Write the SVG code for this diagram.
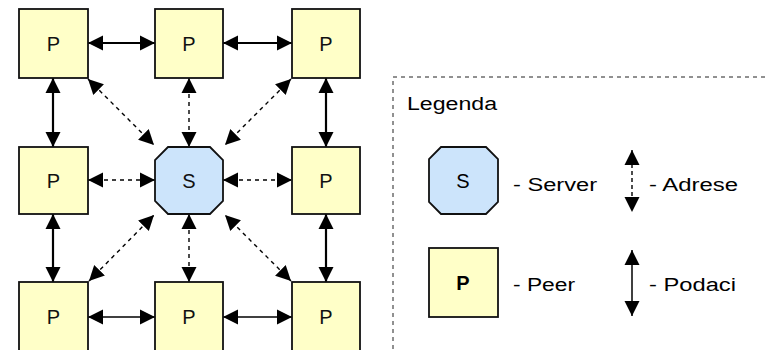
<svg xmlns="http://www.w3.org/2000/svg" width="769" height="350" viewBox="0 0 769 350">
<style>
.peer{fill:#ffffc8;stroke:#111;stroke-width:1.8}
.srv{fill:#cce4fb;stroke:#111;stroke-width:1.8}
.lbl{font-family:"Liberation Sans",Arial,sans-serif;font-size:20px;fill:#111;text-anchor:middle}
.leg{font-family:"Liberation Sans",Arial,sans-serif;font-size:18px;fill:#000}
.big{font-size:20px;text-anchor:middle}
.data{stroke:#000;stroke-width:2.2;fill:none;marker-start:url(#ah);marker-end:url(#ah)}
.thin{stroke-width:1.5}
.addr{stroke:#000;stroke-width:1.4;stroke-dasharray:4,4;fill:none;marker-start:url(#ah);marker-end:url(#ah)}
</style>
<defs>
<marker id="ah" markerUnits="userSpaceOnUse" markerWidth="17" markerHeight="17" refX="15" refY="8.5" orient="auto-start-reverse" viewBox="0 0 17 17">
<path d="M0,1 L15,8.5 L0,16 z" fill="#000"/>
</marker>
</defs>
<rect x="393" y="77" width="400" height="300" fill="none" stroke="#222" stroke-width="1" stroke-dasharray="4,4"/>
<g id="connectors">
<line class="data" x1="88" y1="43" x2="155" y2="43"/>
<line class="data" x1="223" y1="43" x2="292" y2="43"/>
<line class="data thin" x1="88" y1="317" x2="155" y2="317"/>
<line class="data thin" x1="223" y1="317" x2="292" y2="317"/>
<line class="data" x1="53" y1="78" x2="53" y2="147"/>
<line class="data" x1="53" y1="214" x2="53" y2="282"/>
<line class="data" x1="326" y1="78" x2="326" y2="147"/>
<line class="data" x1="326" y1="214" x2="326" y2="282"/>
<line class="addr" x1="189" y1="78" x2="189" y2="147"/>
<line class="addr" x1="189" y1="214" x2="189" y2="282"/>
<line class="addr" x1="88" y1="180" x2="155" y2="180"/>
<line class="addr" x1="223" y1="180" x2="292" y2="180"/>
<line class="addr" x1="88" y1="79" x2="154" y2="145"/>
<line class="addr" x1="291" y1="79" x2="225" y2="145"/>
<line class="addr" x1="89" y1="281" x2="154" y2="215"/>
<line class="addr" x1="291" y1="281" x2="225" y2="215"/>
</g>
<g id="p1"><rect class="peer" x="19" y="9" width="69" height="69"/><text class="lbl" x="53.5" y="51">P</text></g>
<g id="p2"><rect class="peer" x="155" y="9" width="68" height="69"/><text class="lbl" x="189" y="51">P</text></g>
<g id="p3"><rect class="peer" x="292" y="9" width="68" height="69"/><text class="lbl" x="326" y="51">P</text></g>
<g id="p4"><rect class="peer" x="19" y="147" width="69" height="67"/><text class="lbl" x="53.5" y="188">P</text></g>
<g id="s"><path class="srv" d="M168,147 L210,147 L223,160 L223,201 L210,214 L168,214 L155,201 L155,160 Z"/><text class="lbl" x="189" y="188">S</text></g>
<g id="p5"><rect class="peer" x="292" y="147" width="68" height="67"/><text class="lbl" x="326" y="188">P</text></g>
<g id="p6"><rect class="peer" x="19" y="282" width="69" height="70"/><text class="lbl" x="53.5" y="324">P</text></g>
<g id="p7"><rect class="peer" x="155" y="282" width="68" height="70"/><text class="lbl" x="189" y="324">P</text></g>
<g id="p8"><rect class="peer" x="292" y="282" width="68" height="70"/><text class="lbl" x="326" y="324">P</text></g>
<g id="legend">
<text class="leg" x="407" y="110" textLength="90" lengthAdjust="spacingAndGlyphs">Legenda</text>
<g id="leg-s"><path class="srv" d="M441,147 L486,147 L498,159 L498,202 L486,214 L441,214 L429,202 L429,159 Z"/><text class="leg big" x="463" y="188">S</text></g>
<text class="leg" x="513" y="191" textLength="84" lengthAdjust="spacingAndGlyphs">- Server</text>
<line class="addr" x1="632" y1="150" x2="632" y2="212" style="stroke-dasharray:4,3"/>
<text class="leg" x="649" y="191" textLength="89" lengthAdjust="spacingAndGlyphs">- Adrese</text>
<g id="leg-p"><rect class="peer" x="429" y="248" width="69" height="69"/><text class="leg big" x="463" y="290" font-weight="bold">P</text></g>
<text class="leg" x="513" y="291" textLength="62" lengthAdjust="spacingAndGlyphs">- Peer</text>
<line class="data thin" x1="632" y1="250" x2="632" y2="316"/>
<text class="leg" x="649" y="291" textLength="87" lengthAdjust="spacingAndGlyphs">- Podaci</text>
</g>
</svg>
